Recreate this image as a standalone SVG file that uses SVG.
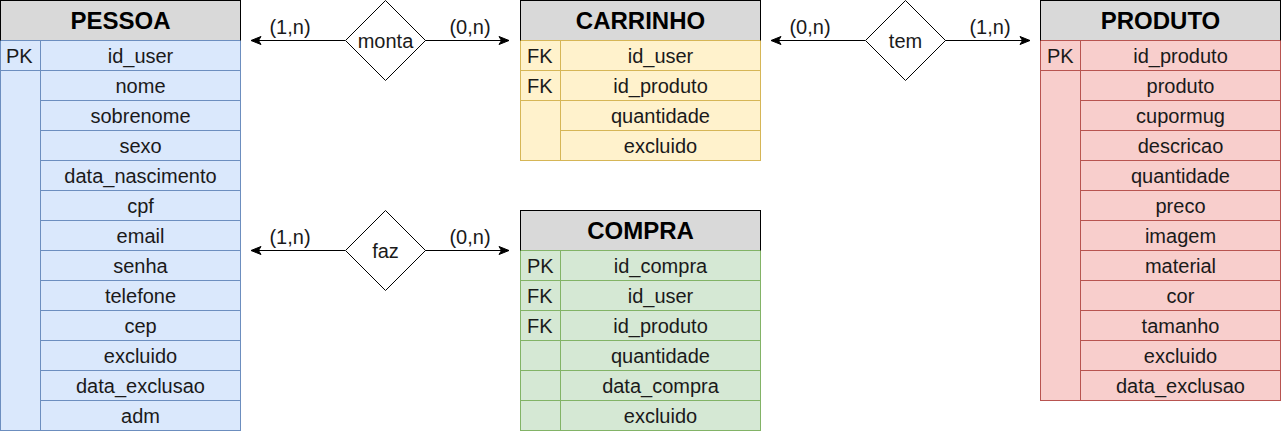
<svg xmlns="http://www.w3.org/2000/svg" width="1281" height="432" viewBox="0 0 1281 432">
<defs>
<marker id="arr" viewBox="0 0 12 10" refX="11" refY="5" markerWidth="12" markerHeight="10" markerUnits="userSpaceOnUse" orient="auto-start-reverse">
<path d="M1,1 L11,5 L1,9 L3.5,5 Z" fill="#000" stroke="#000" stroke-width="1"/>
</marker>
</defs>
<style>
text{font-family:"Liberation Sans",Arial,sans-serif;font-size:20px;fill:#1a1a1a;text-anchor:middle}
.h{font-size:24px;font-weight:bold;fill:#000}
.k{text-anchor:start}
.hd{fill:#d9d9d9;stroke:#000;stroke-width:1}
.blue{fill:#dae8fc;stroke:#6c8ebf}
.yel{fill:#fff2cc;stroke:#d6b656}
.grn{fill:#d5e8d4;stroke:#82b366}
.red{fill:#f8cecc;stroke:#b85450}
.ln{fill:none;stroke-width:1}
.lb{stroke:#6c8ebf}.ly{stroke:#d6b656}.lg{stroke:#82b366}.lr{stroke:#b85450}
.conn line{stroke:#000;stroke-width:1}
.dia{fill:#fff;stroke:#000;stroke-width:1}
</style>

<g id="connectors" class="conn">
<line x1="345" y1="40.5" x2="251" y2="40.5" marker-end="url(#arr)"/>
<line x1="425" y1="40.5" x2="509" y2="40.5" marker-end="url(#arr)"/>
<line x1="345" y1="250.5" x2="251" y2="250.5" marker-end="url(#arr)"/>
<line x1="425" y1="250.5" x2="509" y2="250.5" marker-end="url(#arr)"/>
<line x1="865" y1="40.5" x2="771" y2="40.5" marker-end="url(#arr)"/>
<line x1="945" y1="40.5" x2="1030" y2="40.5" marker-end="url(#arr)"/>
<text x="290" y="34">(1,n)</text>
<text x="470" y="34">(0,n)</text>
<text x="290" y="244">(1,n)</text>
<text x="470" y="244">(0,n)</text>
<text x="810" y="34">(0,n)</text>
<text x="990" y="34">(1,n)</text>
</g>

<g id="monta">
<polygon class="dia" points="385.5,0.5 425.5,40.5 385.5,80.5 345.5,40.5"/>
<text x="385.5" y="48">monta</text>
</g>
<g id="faz">
<polygon class="dia" points="385.5,210.5 425.5,250.5 385.5,290.5 345.5,250.5"/>
<text x="385.5" y="258">faz</text>
</g>
<g id="tem">
<polygon class="dia" points="905.5,0.5 945.5,40.5 905.5,80.5 865.5,40.5"/>
<text x="905.5" y="48">tem</text>
</g>

<g id="pessoa">
<rect class="blue" x="0.5" y="40.5" width="240" height="390"/>
<rect class="hd" x="0.5" y="0.5" width="240" height="40"/>
<text class="h" x="120.5" y="29">PESSOA</text>
<g class="ln lb">
<line x1="40.5" y1="40.5" x2="40.5" y2="430.5"/>
<line x1="0.5" y1="70.5" x2="240.5" y2="70.5"/>
<line x1="40.5" y1="100.5" x2="240.5" y2="100.5"/>
<line x1="40.5" y1="130.5" x2="240.5" y2="130.5"/>
<line x1="40.5" y1="160.5" x2="240.5" y2="160.5"/>
<line x1="40.5" y1="190.5" x2="240.5" y2="190.5"/>
<line x1="40.5" y1="220.5" x2="240.5" y2="220.5"/>
<line x1="40.5" y1="250.5" x2="240.5" y2="250.5"/>
<line x1="40.5" y1="280.5" x2="240.5" y2="280.5"/>
<line x1="40.5" y1="310.5" x2="240.5" y2="310.5"/>
<line x1="40.5" y1="340.5" x2="240.5" y2="340.5"/>
<line x1="40.5" y1="370.5" x2="240.5" y2="370.5"/>
<line x1="40.5" y1="400.5" x2="240.5" y2="400.5"/>
</g>
<line x1="0.5" y1="40.5" x2="240.5" y2="40.5" stroke="#6c8ebf"/>
<text class="k" x="6" y="63">PK</text>
<text x="140.5" y="63">id_user</text>
<text x="140.5" y="93">nome</text>
<text x="140.5" y="123">sobrenome</text>
<text x="140.5" y="153">sexo</text>
<text x="140.5" y="183">data_nascimento</text>
<text x="140.5" y="213">cpf</text>
<text x="140.5" y="243">email</text>
<text x="140.5" y="273">senha</text>
<text x="140.5" y="303">telefone</text>
<text x="140.5" y="333">cep</text>
<text x="140.5" y="363">excluido</text>
<text x="140.5" y="393">data_exclusao</text>
<text x="140.5" y="423">adm</text>
</g>

<g id="carrinho">
<rect class="yel" x="520.5" y="40.5" width="240" height="120"/>
<rect class="hd" x="520.5" y="0.5" width="240" height="40"/>
<text class="h" x="640.5" y="29">CARRINHO</text>
<g class="ln ly">
<line x1="560.5" y1="40.5" x2="560.5" y2="160.5"/>
<line x1="520.5" y1="70.5" x2="760.5" y2="70.5"/>
<line x1="520.5" y1="100.5" x2="760.5" y2="100.5"/>
<line x1="560.5" y1="130.5" x2="760.5" y2="130.5"/>
</g>
<line x1="520.5" y1="40.5" x2="760.5" y2="40.5" stroke="#d6b656"/>
<text class="k" x="527" y="63">FK</text>
<text class="k" x="527" y="93">FK</text>
<text x="660.5" y="63">id_user</text>
<text x="660.5" y="93">id_produto</text>
<text x="660.5" y="123">quantidade</text>
<text x="660.5" y="153">excluido</text>
</g>

<g id="compra">
<rect class="grn" x="520.5" y="250.5" width="240" height="180"/>
<rect class="hd" x="520.5" y="210.5" width="240" height="40"/>
<text class="h" x="640.5" y="239">COMPRA</text>
<g class="ln lg">
<line x1="560.5" y1="250.5" x2="560.5" y2="430.5"/>
<line x1="520.5" y1="280.5" x2="760.5" y2="280.5"/>
<line x1="520.5" y1="310.5" x2="760.5" y2="310.5"/>
<line x1="520.5" y1="340.5" x2="760.5" y2="340.5"/>
<line x1="520.5" y1="370.5" x2="760.5" y2="370.5"/>
<line x1="520.5" y1="400.5" x2="760.5" y2="400.5"/>
</g>
<line x1="520.5" y1="250.5" x2="760.5" y2="250.5" stroke="#82b366"/>
<text class="k" x="527" y="273">PK</text>
<text class="k" x="527" y="303">FK</text>
<text class="k" x="527" y="333">FK</text>
<text x="660.5" y="273">id_compra</text>
<text x="660.5" y="303">id_user</text>
<text x="660.5" y="333">id_produto</text>
<text x="660.5" y="363">quantidade</text>
<text x="660.5" y="393">data_compra</text>
<text x="660.5" y="423">excluido</text>
</g>

<g id="produto">
<rect class="red" x="1040.5" y="40.5" width="240" height="360"/>
<rect class="hd" x="1040.5" y="0.5" width="240" height="40"/>
<text class="h" x="1160.5" y="29">PRODUTO</text>
<g class="ln lr">
<line x1="1080.5" y1="40.5" x2="1080.5" y2="400.5"/>
<line x1="1040.5" y1="70.5" x2="1280.5" y2="70.5"/>
<line x1="1080.5" y1="100.5" x2="1280.5" y2="100.5"/>
<line x1="1080.5" y1="130.5" x2="1280.5" y2="130.5"/>
<line x1="1080.5" y1="160.5" x2="1280.5" y2="160.5"/>
<line x1="1080.5" y1="190.5" x2="1280.5" y2="190.5"/>
<line x1="1080.5" y1="220.5" x2="1280.5" y2="220.5"/>
<line x1="1080.5" y1="250.5" x2="1280.5" y2="250.5"/>
<line x1="1080.5" y1="280.5" x2="1280.5" y2="280.5"/>
<line x1="1080.5" y1="310.5" x2="1280.5" y2="310.5"/>
<line x1="1080.5" y1="340.5" x2="1280.5" y2="340.5"/>
<line x1="1080.5" y1="370.5" x2="1280.5" y2="370.5"/>
</g>
<line x1="1040.5" y1="40.5" x2="1280.5" y2="40.5" stroke="#b85450"/>
<text class="k" x="1047" y="63">PK</text>
<text x="1180.5" y="63">id_produto</text>
<text x="1180.5" y="93">produto</text>
<text x="1180.5" y="123">cupormug</text>
<text x="1180.5" y="153">descricao</text>
<text x="1180.5" y="183">quantidade</text>
<text x="1180.5" y="213">preco</text>
<text x="1180.5" y="243">imagem</text>
<text x="1180.5" y="273">material</text>
<text x="1180.5" y="303">cor</text>
<text x="1180.5" y="333">tamanho</text>
<text x="1180.5" y="363">excluido</text>
<text x="1180.5" y="393">data_exclusao</text>
</g>
</svg>
